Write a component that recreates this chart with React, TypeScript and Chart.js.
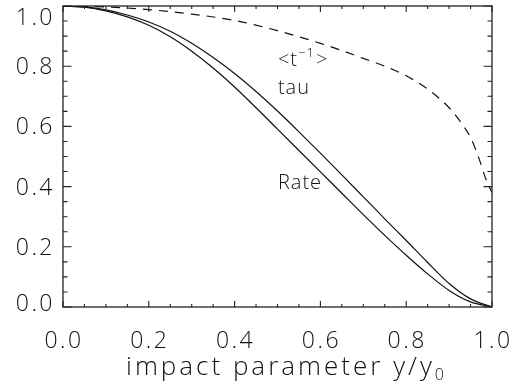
import React, { useEffect, useRef } from "react";
import { Chart, registerables } from "chart.js";

Chart.register(...registerables);

// ---- data ----
const xSolid = [0, 0.05, 0.1, 0.15, 0.2, 0.25, 0.3, 0.35, 0.4, 0.45, 0.5, 0.55, 0.6, 0.65, 0.7, 0.75, 0.8, 0.85, 0.9, 0.95, 1.0];
const tauValues = [1.0, 0.997, 0.987, 0.970, 0.947, 0.916, 0.876, 0.829, 0.776, 0.716, 0.651, 0.582, 0.511, 0.439, 0.366, 0.293, 0.221, 0.148, 0.078, 0.027, 0.0];
const rateValues = [1.0, 0.996, 0.984, 0.964, 0.936, 0.898, 0.850, 0.794, 0.731, 0.662, 0.591, 0.520, 0.449, 0.378, 0.307, 0.238, 0.172, 0.110, 0.055, 0.017, 0.0];

const xDashed = [0, 0.1, 0.2, 0.3, 0.4, 0.5, 0.6, 0.65, 0.7, 0.75, 0.8, 0.85, 0.9, 0.93, 0.95, 0.97, 0.985, 1.0];
const tInvValues = [1.0, 0.997, 0.988, 0.973, 0.952, 0.918, 0.876, 0.852, 0.826, 0.800, 0.768, 0.724, 0.662, 0.608, 0.563, 0.492, 0.428, 0.38];

const xTickValues = [0, 0.2, 0.4, 0.6, 0.8, 1.0];
const yTickValues = [0, 0.2, 0.4, 0.6, 0.8, 1.0];
const tickLabels = ["0.0", "0.2", "0.4", "0.6", "0.8", "1.0"];

const xAxisTitle = "impact parameter y/y";
const xAxisTitleSub = "0";
const labelTau = "tau";
const labelRate = "Rate";

const FONT = '"Open Sans", "DejaVu Sans", sans-serif';
const INK = "#111";

const framePlugin = {
  id: "frame",
  afterDatasetsDraw(chart: any) {
    const { ctx, chartArea: a } = chart;
    const xs = chart.scales.x;
    const ys = chart.scales.y;
    ctx.save();
    // box
    ctx.strokeStyle = "#222";
    ctx.lineWidth = 1.3;
    ctx.strokeRect(a.left, a.top, a.right - a.left, a.bottom - a.top);
    // inward ticks on all four sides
    ctx.lineWidth = 1.1;
    ctx.beginPath();
    for (let i = 0; i <= 20; i++) {
      const v = i / 20;
      const major = i % 4 === 0;
      const px = xs.getPixelForValue(v);
      const lx = major ? 6 : 3;
      ctx.moveTo(px, a.bottom);
      ctx.lineTo(px, a.bottom - lx);
      ctx.moveTo(px, a.top);
      ctx.lineTo(px, a.top + lx);
      const py = ys.getPixelForValue(v);
      const ly = major ? 8.5 : 4.5;
      ctx.moveTo(a.left, py);
      ctx.lineTo(a.left + ly, py);
      ctx.moveTo(a.right, py);
      ctx.lineTo(a.right - ly, py);
    }
    ctx.stroke();

    // tick labels
    ctx.fillStyle = INK;
    ctx.font = `300 23px ${FONT}`;
    (ctx as any).letterSpacing = "2.5px";
    ctx.textBaseline = "alphabetic";
    ctx.textAlign = "center";
    xTickValues.forEach((v, i) => {
      ctx.fillText(tickLabels[i], xs.getPixelForValue(v) + 1, a.bottom + 41);
    });
    ctx.textAlign = "right";
    yTickValues.forEach((v, i) => {
      let py = ys.getPixelForValue(v);
      py = Math.min(Math.max(py, a.top + 11), a.bottom - 4);
      ctx.fillText(tickLabels[i], a.left - 8, py + 8);
    });

    // x axis title with subscript
    ctx.textAlign = "left";
    ctx.font = `300 26px ${FONT}`;
    (ctx as any).letterSpacing = "3px";
    const tw = ctx.measureText(xAxisTitle).width;
    ctx.font = `300 16px ${FONT}`;
    const sw = ctx.measureText(xAxisTitleSub).width;
    const cx = (a.left + a.right) / 2 + 9;
    const tx = cx - (tw + sw) / 2;
    ctx.font = `300 26px ${FONT}`;
    ctx.fillText(xAxisTitle, tx, a.bottom + 68);
    ctx.font = `300 16px ${FONT}`;
    ctx.fillText(xAxisTitleSub, tx + tw, a.bottom + 73);

    // curve annotations (placed in data coordinates)
    (ctx as any).letterSpacing = "1px";
    const ax = xs.getPixelForValue(0.501);
    ctx.font = `300 20px ${FONT}`;
    let px = ax;
    const by = ys.getPixelForValue(0.80);
    ctx.fillText("<t", px, by);
    px += ctx.measureText("<t").width;
    ctx.font = `300 13px ${FONT}`;
    ctx.fillText("\u22121", px, by - 9);
    px += ctx.measureText("\u22121").width + 1;
    ctx.font = `300 20px ${FONT}`;
    ctx.fillText(">", px, by);
    ctx.fillText(labelTau, ax, ys.getPixelForValue(0.706));
    ctx.fillText(labelRate, ax, ys.getPixelForValue(0.392));
    ctx.restore();
  },
};

export default function App() {
  const ref = useRef<HTMLCanvasElement | null>(null);

  useEffect(() => {
    document.body.style.margin = "0";
    const canvas = ref.current;
    if (!canvas) return;
    const line = {
      borderColor: INK,
      borderWidth: 1.2,
      pointRadius: 0,
      fill: false,
      cubicInterpolationMode: "monotone" as const,
    };
    const chart = new Chart(canvas, {
      type: "line",
      data: {
        datasets: [
          { label: "tau", data: xSolid.map((x, i) => ({ x, y: tauValues[i] })), ...line },
          { label: "Rate", data: xSolid.map((x, i) => ({ x, y: rateValues[i] })), ...line },
          {
            label: "<t^-1>",
            data: xDashed.map((x, i) => ({ x, y: tInvValues[i] })),
            ...line,
            borderDash: [9, 7],
          },
        ],
      },
      options: {
        animation: false,
        responsive: false,
        devicePixelRatio: 1,
        layout: { padding: { left: 63, right: 31, top: 6, bottom: 84 } },
        plugins: { legend: { display: false }, tooltip: { enabled: false } },
        scales: {
          x: { type: "linear", min: 0, max: 1, display: false },
          y: { type: "linear", min: 0, max: 1, display: false },
        },
      },
      plugins: [framePlugin],
    });
    return () => chart.destroy();
  }, []);

  return (
    <div style={{ width: 523, height: 391, background: "#fff" }}>
      <canvas ref={ref} width={523} height={391} style={{ display: "block" }} />
    </div>
  );
}
